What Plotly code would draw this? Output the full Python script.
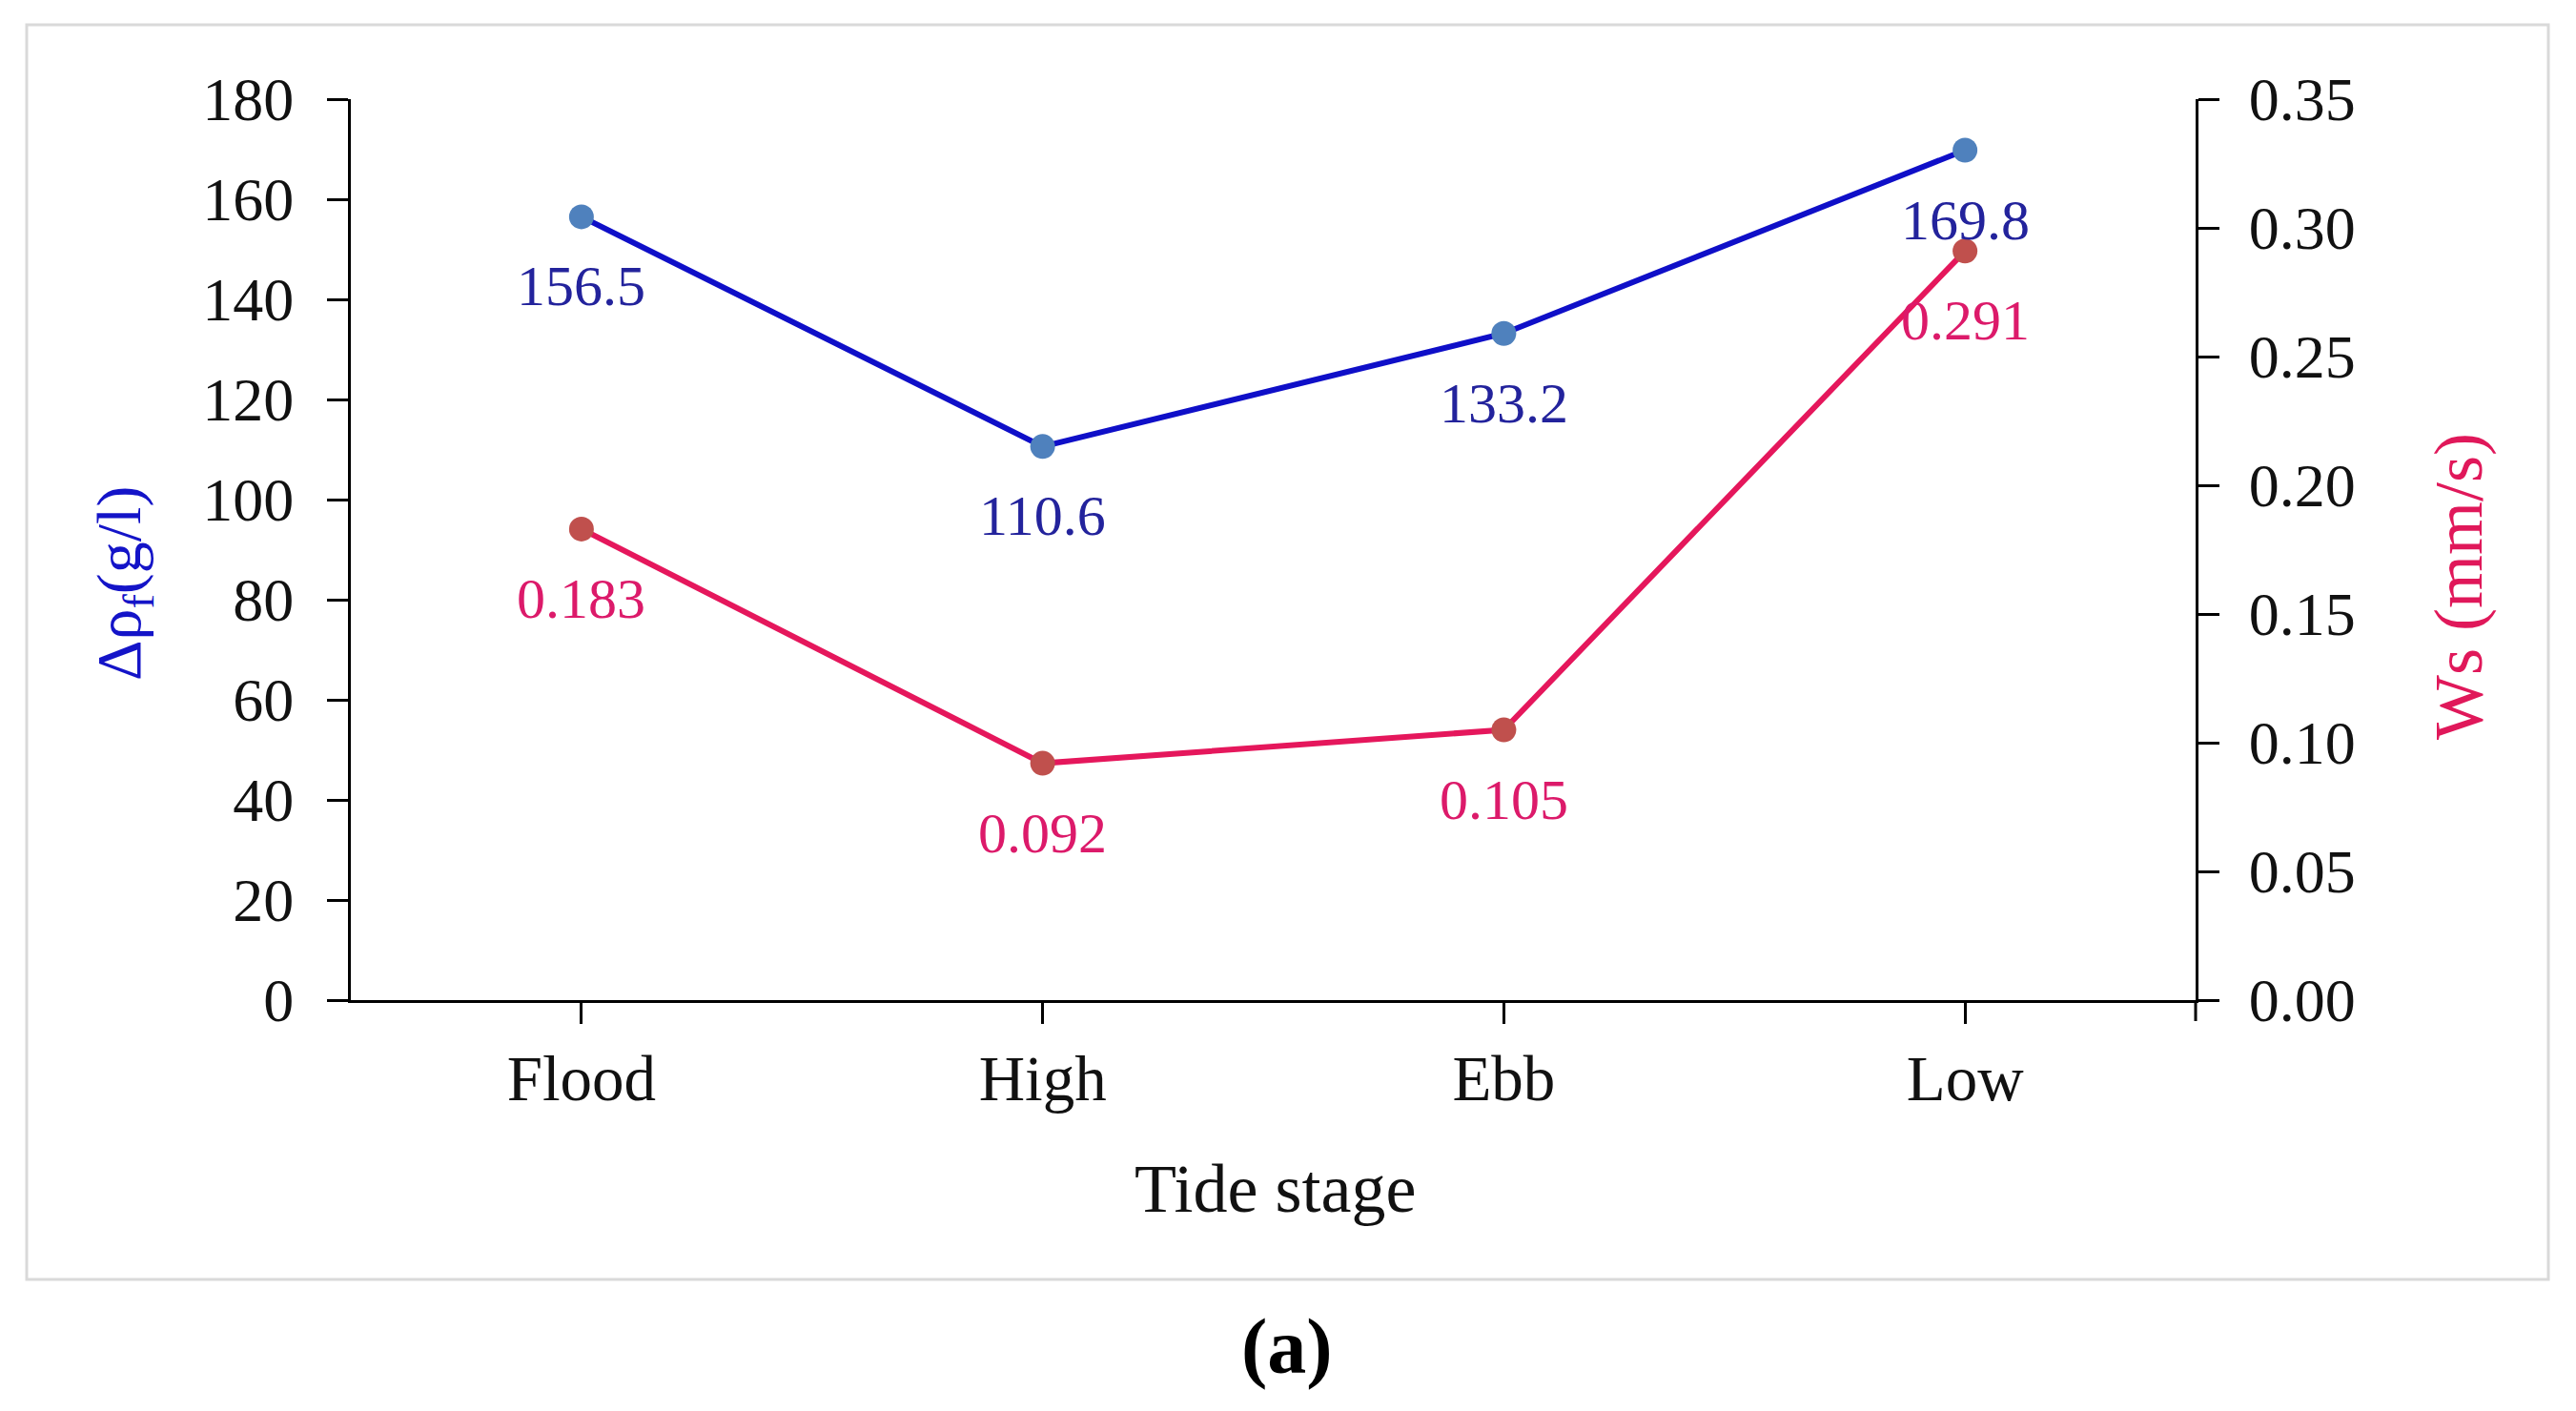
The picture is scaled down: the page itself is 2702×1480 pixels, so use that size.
import plotly.graph_objects as go

# ---- data ----
stages = ["Flood", "High", "Ebb", "Low"]
delta_rho = [156.5, 110.6, 133.2, 169.8]   # g/l, left axis
ws = [0.183, 0.092, 0.105, 0.291]          # mm/s, right axis
delta_rho_labels = ["156.5", "110.6", "133.2", "169.8"]
ws_labels = ["0.183", "0.092", "0.105", "0.291"]

# ---- layout geometry (pixels) ----
W, H = 2702, 1480
L, R, T, B = 360, 2295, 96, 1041   # plot area box in pixels


def px(xp):
    return (xp - L) / (R - L)


def py(yp):
    return (B - yp) / (B - T)


FONT = "Liberation Serif, Times New Roman, serif"
BLUE_LINE = "#0F0FC8"
BLUE_MARK = "#4F81BD"
BLUE_TXT = "#23239C"
RED_LINE = "#E5175C"
RED_MARK = "#C0504D"
RED_TXT = "#DC1A6A"

fig = go.Figure()
fig.add_trace(go.Scatter(
    x=stages, y=delta_rho, mode="lines+markers", name="Δρf",
    line=dict(color=BLUE_LINE, width=6),
    marker=dict(color=BLUE_MARK, size=26),
    yaxis="y", cliponaxis=False,
))
fig.add_trace(go.Scatter(
    x=stages, y=ws, mode="lines+markers", name="Ws",
    line=dict(color=RED_LINE, width=6),
    marker=dict(color=RED_MARK, size=26),
    yaxis="y2", cliponaxis=False,
))

annotations = []
for s, v, t in zip(stages, delta_rho, delta_rho_labels):
    annotations.append(dict(x=s, y=v, xref="x", yref="y", text=t, showarrow=False,
                            yshift=-73, font=dict(family=FONT, size=60, color=BLUE_TXT)))
for s, v, t in zip(stages, ws, ws_labels):
    annotations.append(dict(x=s, y=v, xref="x", yref="y2", text=t, showarrow=False,
                            yshift=-73, font=dict(family=FONT, size=60, color=RED_TXT)))

# axis titles and caption
annotations += [
    dict(x=px(121), y=py(604), xref="paper", yref="paper", text="Δρ<sub>f</sub>(g/l)",
         textangle=-90, showarrow=False, xanchor="center", yanchor="middle",
         font=dict(family=FONT, size=66, color="#1414C8")),
    dict(x=px(2571), y=py(607), xref="paper", yref="paper", text="Ws (mm/s)",
         textangle=-90, showarrow=False, xanchor="center", yanchor="middle",
         font=dict(family=FONT, size=72, color="#E0185A")),
    dict(x=px(1329), y=py(1239), xref="paper", yref="paper", text="Tide stage",
         showarrow=False, xanchor="center", yanchor="middle",
         font=dict(family=FONT, size=72, color="#111111")),
    dict(x=px(1342), y=py(1404), xref="paper", yref="paper", text="<b>(a)</b>",
         showarrow=False, xanchor="center", yanchor="middle",
         font=dict(family=FONT, size=82, color="#000000")),
]

axis_common = dict(showgrid=False, zeroline=False, showline=True, linecolor="black",
                   linewidth=3, ticks="outside", ticklen=22, tickwidth=3,
                   tickcolor="black")

fig.update_layout(
    width=W, height=H,
    margin=dict(l=L, r=W - R, t=T, b=H - B, pad=0),
    paper_bgcolor="white", plot_bgcolor="white",
    showlegend=False,
    font=dict(family=FONT, size=64, color="#111111"),
    xaxis=dict(type="category", range=[-0.5, 3.5],
               tickfont=dict(family=FONT, size=67, color="#111111"), **axis_common),
    yaxis=dict(range=[0, 180], dtick=20, ticklabelstandoff=22,
               tickfont=dict(family=FONT, size=64, color="#111111"), **axis_common),
    yaxis2=dict(range=[0, 0.35], dtick=0.05, tickformat=".2f", overlaying="y",
                side="right", ticklabelstandoff=18,
                tickfont=dict(family=FONT, size=64, color="#111111"), **axis_common),
    annotations=annotations,
    shapes=[
        dict(type="rect", xref="paper", yref="paper",
             x0=px(20), x1=px(2665), y0=py(1334), y1=py(18),
             line=dict(color="#D9D9D9", width=3), layer="below"),
        dict(type="line", xref="paper", yref="paper", ysizemode="pixel", yanchor=0,
             x0=1, x1=1, y0=0, y1=-22, line=dict(color="black", width=3)),
    ],
)

fig.write_html("out.html")
